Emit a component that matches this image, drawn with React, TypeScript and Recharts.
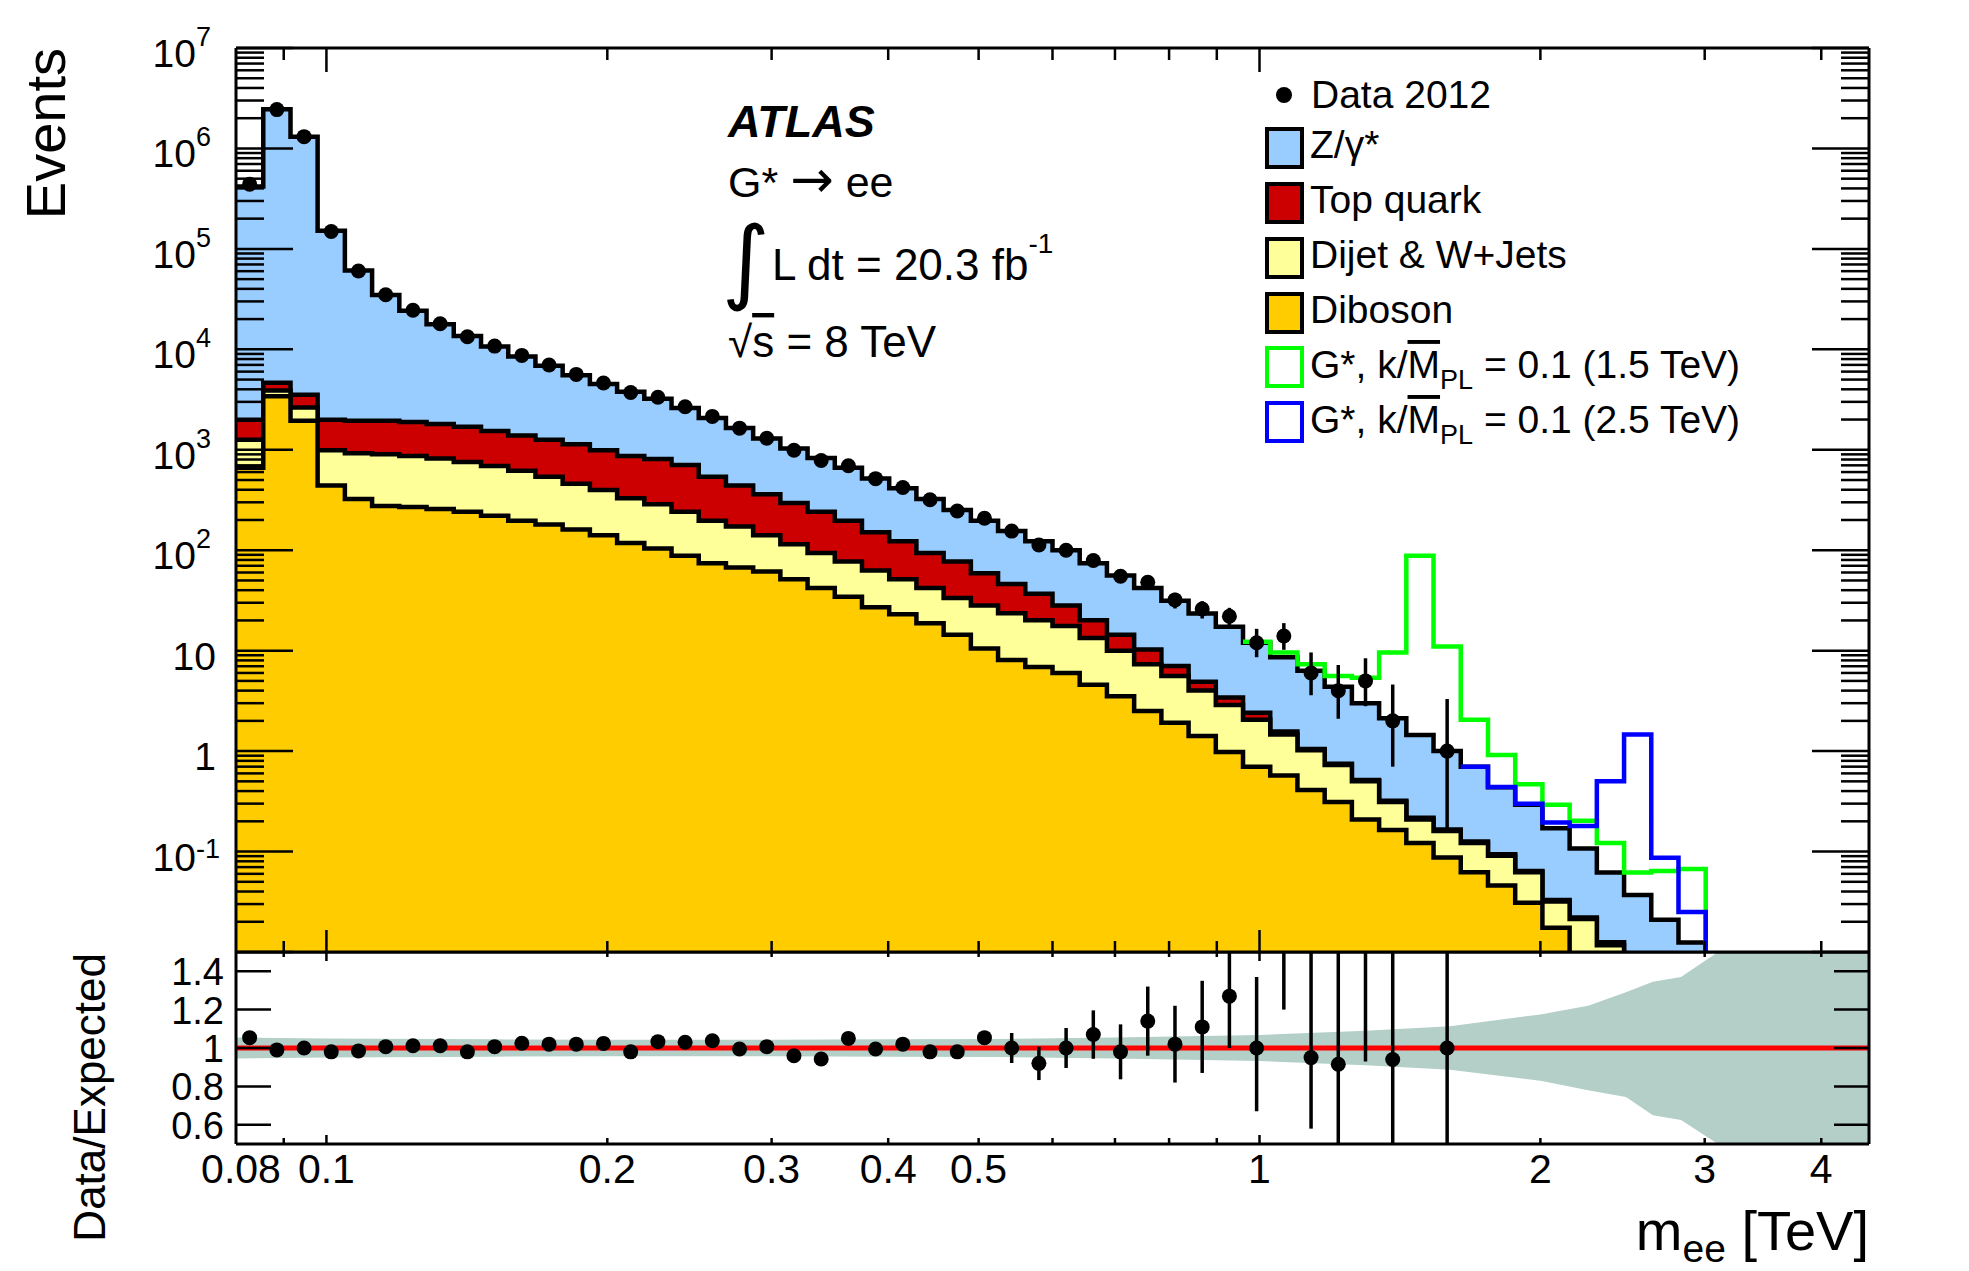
import React from 'react';
import { ComposedChart, Area, Line, Scatter, XAxis, YAxis, ErrorBar, ReferenceLine, CartesianGrid } from 'recharts';

const FONT = '"Liberation Sans", Arial, Helvetica, sans-serif';
const W = 1969;
const H = 1271;
const PLOT_L = 236;
const PLOT_R = 1869;
const MAIN_T = 48;
const MAIN_B = 952;
const RATIO_B = 1144;
const MAIN_H = 1000;
const AX = 1; // axis thickness reserved by recharts

// ---- bin edges (TeV), 60 bins from 0.08 to 4.5 ----
const binEdges = [0.08, 0.08557, 0.09152, 0.09785, 0.10466, 0.11193, 0.11971, 0.12803, 0.13692, 0.14645,
  0.15662, 0.1675, 0.17913, 0.19158, 0.20489, 0.21912, 0.23434, 0.25062, 0.26802, 0.28664,
  0.30654, 0.32783, 0.35061, 0.37494, 0.40099, 0.42884, 0.45864, 0.49052, 0.52457, 0.56104,
  0.6, 0.64166, 0.68624, 0.73393, 0.78494, 0.83946, 0.89776, 0.96013, 1.02683, 1.09817,
  1.17447, 1.25606, 1.34334, 1.43666, 1.53642, 1.64317, 1.75735, 1.87945, 2.01003, 2.14968,
  2.29899, 2.45872, 2.62944, 2.81213, 3.0075, 3.2164, 3.43989, 3.67889, 3.93449, 4.2077, 4.5];

// ---- background components (events per bin) ----
const zVals = [416000, 2455000, 1306000, 150000, 59160, 32860, 22300, 15990, 11900, 9160,
  7110, 5590, 4390, 3520, 2925, 2421, 1893, 1530, 1208, 933,
  735, 589, 464, 368, 290, 230, 174, 138, 108.8, 86.2,
  71.9, 53.9, 41.6, 31.7, 24.35, 18.49, 13.89, 9.59, 7.03, 5.25,
  3.62, 2.485, 1.81, 1.233, 0.834, 0.574, 0.343, 0.228, 0.138, 0.085,
  0.0495, 0.0305, 0.0177, 0.0107, 0.0052, 0.0035, 0.0027, 0.0018, 0.00135, 0.0009];
const topVals = [730, 750, 900, 1001, 1015, 1040, 1020, 990, 937, 853,
  766, 720, 672, 592, 536, 522, 466, 343, 270, 220,
  180, 147, 120, 88, 71.5, 51.9, 43.5, 30.8, 22.6, 16.7,
  10.5, 6.7, 4.4, 2.96, 1.44, 0.9, 0.54, 0.36, 0.11, 0.03,
  0.022, 0.015, 0.008, 0.008, 0.006, 0.004, 0.0032, 0.0017, 0.0012, 0.0007,
  0.0008, 0.0005, 0.0003, 0.0002, 0.0001, 0.0001, 0.0001, 0.00005, 0.00005, 0.00002];
const dijetVals = [599, 486, 700, 547, 601, 624, 596, 562, 515, 468,
  421, 360, 299, 256, 211, 183, 153, 123, 104.7, 79.7,
  63.5, 51.9, 42.6, 36.0, 28.5, 23.3, 19.1, 17.6, 15.5, 13.2,
  11.6, 8.81, 6.49, 4.83, 3.69, 2.6, 1.89, 1.35, 0.888, 0.611,
  0.416, 0.291, 0.148, 0.087, 0.0729, 0.0597, 0.045, 0.0313, 0.0144, 0.0133,
  0.0077, 0.004, 0.002, 0.001, 0.0004, 0.0002, 0.0001, 0.00005, 0.00005, 0.00004];
const dibosonVals = [661, 3404, 1940, 442, 324, 276, 269, 258, 241, 220,
  197, 180, 161, 141, 118, 104, 88, 74, 67.3, 61.3,
  51.5, 42.1, 34.4, 27.0, 23.0, 18.8, 14.4, 10.5, 8.07, 6.87,
  6.0, 4.59, 3.51, 2.51, 1.92, 1.41, 0.98, 0.7, 0.572, 0.409,
  0.312, 0.209, 0.164, 0.122, 0.0871, 0.0623, 0.0458, 0.031, 0.0174, 0.008,
  0.004, 0.002, 0.001, 0.0005, 0.0003, 0.0002, 0.0001, 0.0001, 0.00005, 0.00004];

// ---- signal + background lines ----
const gstar15FirstBin = 37;
const gstar15Vals = [12.3, 9.6, 7.34, 5.61, 5.39, 9.6, 88, 11.0, 2.05, 0.915, 0.467, 0.292, 0.203, 0.122, 0.062, 0.064, 0.067, 0.00001];
const gstar25FirstBin = 45;
const gstar25Vals = [0.7, 0.44, 0.3, 0.195, 0.18, 0.5, 1.46, 0.087, 0.025, 0.00001];

// ---- data 2012 ----
const dataVals = [441000, 2435000, 1310000, 149000, 60200, 35000, 24500, 18000, 13330, 10770,
  8700, 6990, 5630, 4620, 3715, 3335, 2680, 2150, 1642, 1303,
  989, 783, 694, 516, 421, 318, 246, 208, 155, 113,
  100, 79, 55, 48, 32, 26, 22, 12, 14, 6,
  4, 5, 2, null, 1];
const dataErrLow = [0, 0, 0, 0, 0, 0, 0, 0, 0, 0, 0, 0, 0, 0, 0, 0, 0, 0, 0, 0, 0, 0, 0, 0, 0, 0, 0, 0, 0, 0,
  10, 8.9, 7.4, 6.9, 5.7, 5.1, 4.7, 3.4, 3.8, 2.4, 1.9, 2.2, 1.3, 0, 0.83];
const dataErrHigh = [0, 0, 0, 0, 0, 0, 0, 0, 0, 0, 0, 0, 0, 0, 0, 0, 0, 0, 0, 0, 0, 0, 0, 0, 0, 0, 0, 0, 0, 0,
  10, 8.9, 7.4, 6.9, 5.7, 5.1, 4.7, 4.5, 4.8, 3.6, 3.2, 3.4, 2.6, 0, 2.3];

// ---- ratio panel ----
const ratioVals = [1.054, 0.99, 1.0, 0.98, 0.985, 1.007, 1.012, 1.012, 0.98, 1.007,
  1.025, 1.02, 1.02, 1.024, 0.98, 1.033, 1.03, 1.038, 0.995, 1.007,
  0.96, 0.943, 1.05, 0.995, 1.02, 0.98, 0.98, 1.054, 1.0, 0.92,
  1.0, 1.07, 0.98, 1.14, 1.02, 1.11, 1.27, 1.0, 1.64, 0.95,
  0.915, 1.66, 0.94, null, 1.0];
const ratioErrLow = [0, 0, 0, 0, 0, 0, 0, 0, 0, 0, 0, 0, 0, 0, 0, 0, 0, 0, 0, 0, 0, 0,
  0.012, 0.015, 0.02, 0.025, 0.03, 0.035, 0.078, 0.087, 0.104, 0.126, 0.143, 0.18, 0.2, 0.24, 0.27, 0.33, 0.44, 0.37, 0.46, 0.73, 0.66, 0, 0.82];
const ratioErrHigh = [0, 0, 0, 0, 0, 0, 0, 0, 0, 0, 0, 0, 0, 0, 0, 0, 0, 0, 0, 0, 0, 0,
  0.012, 0.015, 0.02, 0.025, 0.03, 0.035, 0.078, 0.087, 0.104, 0.126, 0.143, 0.18, 0.2, 0.24, 0.3, 0.37, 0.5, 0.55, 0.6, 0.9, 1.0, 0, 2.3];
const bandX = [0.08, 0.1, 0.15, 0.2, 0.3, 0.4, 0.53, 0.7, 1.0, 1.3, 1.6, 2.0, 2.25, 2.47, 2.64, 2.83, 3.1, 3.5, 4.5];
const bandUp = [1.055, 1.05, 1.045, 1.043, 1.043, 1.045, 1.047, 1.055, 1.068, 1.09, 1.113, 1.175, 1.22, 1.29, 1.345, 1.37, 1.5, 1.6, 1.7];
const bandDown = [0.945, 0.95, 0.955, 0.957, 0.957, 0.955, 0.953, 0.945, 0.932, 0.91, 0.887, 0.83, 0.78, 0.745, 0.65, 0.625, 0.5, 0.4, 0.3];

// ---- ticks ----
const xTickValues = [0.09, 0.1, 0.2, 0.3, 0.4, 0.5, 0.6, 0.7, 0.8, 0.9, 1, 2, 3, 4];
const xLabelValues = [0.08, 0.1, 0.2, 0.3, 0.4, 0.5, 1, 2, 3, 4];
const xLongTicks = [0.1, 1];
const ratioYTicks = [0.6, 0.8, 1, 1.2, 1.4];
const RATIO_DOMAIN = [0.5, 1.5];
const yMainTicks: number[] = [];
for (let e = -2; e < 7; e++) for (let m = 1; m <= 9; m++) yMainTicks.push(Number((m * Math.pow(10, e)).toPrecision(3)));
yMainTicks.push(1e7);

const COLORS = { z: '#99ccff', top: '#cc0000', dijet: '#ffff99', diboson: '#ffcc00', g15: '#00ff00', g25: '#0000ff', band: '#b3cfc8', ref: '#ff0000' };
const LW = 4.5;

// ---- tables built from the arrays ----
const NB = zVals.length;
const stackRows = binEdges.map((x, k) => {
  const i = Math.min(k, NB - 1);
  const dib = dibosonVals[i];
  const dij = dib + dijetVals[i];
  const top = dij + topVals[i];
  const z = top + zVals[i];
  return { x, dib, dij, top, z };
});
const center = (k: number) => Math.sqrt(binEdges[k] * binEdges[k + 1]);
const dataRows = dataVals
  .map((v, k) => (v == null ? null : { x: center(k), y: v, err: [dataErrLow[k], dataErrHigh[k]] }))
  .filter(Boolean);
// error bars are cut at the bottom of the ratio frame (like the plot's clipping)
const ratioRows = ratioVals
  .map((v, k) => (v == null ? null : { x: center(k), y: v, err: [Math.min(ratioErrLow[k], Math.max(0, v - RATIO_DOMAIN[0])), ratioErrHigh[k]] }))
  .filter(Boolean);
const g15Rows = gstar15Vals.map((v, i) => ({ x: binEdges[gstar15FirstBin + i], v }));
const g25Rows = gstar25Vals.map((v, i) => ({ x: binEdges[gstar25FirstBin + i], v }));
const bandRows = bandX.map((x, i) => ({ x, band: [bandDown[i], bandUp[i]] }));

// ---- tick renderers ----
const TS = { stroke: '#000', strokeWidth: 2.5 };
const isDecade = (v: number) => Math.abs(Math.log10(v) - Math.round(Math.log10(v))) < 1e-6;
const isLongX = (v: number) => xLongTicks.some((t) => Math.abs(t - v) < 1e-9);

function MainYLeftTick(p: any) {
  const { x, y, payload } = p;
  const v = payload.value;
  const e = Math.round(Math.log10(v));
  const major = isDecade(v);
  let label: any = null;
  if (major && e > -2) {
    if (e === 0 || e === 1) {
      label = (
        <text x={x - 20} y={y + 19} textAnchor="end" fontSize={39} fontFamily={FONT} fill="#000">
          {e === 0 ? '1' : '10'}
        </text>
      );
    } else {
      label = (
        <g>
          <text x={x - 40} y={y + 19} textAnchor="end" fontSize={39} fontFamily={FONT} fill="#000">10</text>
          <text x={x - 40} y={y + (e < 0 ? 6 : -2)} textAnchor="start" fontSize={27} fontFamily={FONT} fill="#000">{String(e)}</text>
        </g>
      );
    }
  }
  return (
    <g>
      <line x1={x} x2={x + (major ? 57 : 28)} y1={y} y2={y} {...TS} />
      {label}
    </g>
  );
}
function MainYRightTick(p: any) {
  const { x, y, payload } = p;
  const major = isDecade(payload.value);
  return <line x1={x} x2={x - (major ? 57 : 28)} y1={y} y2={y} {...TS} />;
}
function MainXTopTick(p: any) {
  const { x, y, payload } = p;
  return <line x1={x} x2={x} y1={y} y2={y + (isLongX(payload.value) ? 24 : 12)} {...TS} />;
}
function MainXBottomTick(p: any) {
  const { x, y, payload } = p;
  return <line x1={x} x2={x} y1={y} y2={y - (isLongX(payload.value) ? 22 : 11)} {...TS} />;
}
function RatioXTopTick(p: any) {
  const { x, y, payload } = p;
  if (payload.value < 0.085) return <g />;
  return <line x1={x} x2={x} y1={y} y2={y + (isLongX(payload.value) ? 9 : 5)} {...TS} />;
}
function RatioXBottomTick(p: any) {
  const { x, y, payload } = p;
  const v = payload.value;
  const hasLine = v > 0.085;
  const hasLabel = xLabelValues.some((t) => Math.abs(t - v) < 1e-9);
  return (
    <g>
      {hasLine && <line x1={x} x2={x} y1={y} y2={y - (isLongX(v) ? 9 : 6)} {...TS} />}
      {hasLabel && (
        <text x={v < 0.085 ? x + 5 : x} y={y + 39} textAnchor="middle" fontSize={41} fontFamily={FONT} fill="#000">{String(v)}</text>
      )}
    </g>
  );
}
function RatioYLeftTick(p: any) {
  const { x, y, payload } = p;
  return (
    <g>
      <line x1={x} x2={x + 35} y1={y} y2={y} {...TS} />
      <text x={x - 12} y={y + 14} textAnchor="end" fontSize={38} fontFamily={FONT} fill="#000">{String(payload.value)}</text>
    </g>
  );
}
function RatioYRightTick(p: any) {
  const { x, y } = p;
  return <line x1={x} x2={x - 35} y1={y} y2={y} {...TS} />;
}

const frame = { stroke: '#000', strokeWidth: 3 };
const dotShape = (p: any) => <circle cx={p.cx} cy={p.cy} r={7.5} fill="#000" />;

const xAxisCommon = {
  dataKey: 'x',
  type: 'number' as const,
  scale: 'log' as const,
  domain: [0.08, 4.5],
  allowDataOverflow: true,
  interval: 0,
  height: AX,
  tickSize: 0,
  tickMargin: 0,
  tickLine: false,
  axisLine: frame,
};
const yAxisSize = { interval: 0, width: AX, tickSize: 0, tickMargin: 0, tickLine: false, axisLine: frame, allowDataOverflow: true, type: 'number' as const };

function LegendBlock() {
  const rows = [
    { label: 'Z/\u03b3*', fill: COLORS.z, stroke: '#000', cy: 148 },
    { label: 'Top quark', fill: COLORS.top, stroke: '#000', cy: 203 },
    { label: 'Dijet & W+Jets', fill: COLORS.dijet, stroke: '#000', cy: 258 },
    { label: 'Diboson', fill: COLORS.diboson, stroke: '#000', cy: 313 },
  ];
  const sig = [
    { mass: '1.5', stroke: COLORS.g15, cy: 367 },
    { mass: '2.5', stroke: COLORS.g25, cy: 422 },
  ];
  return (
    <g fontFamily={FONT} fill="#000">
      <circle cx={1284} cy={95} r={8} fill="#000" />
      <text x={1311} y={108} fontSize={39}>Data 2012</text>
      {rows.map((r) => (
        <g key={r.label}>
          <rect x={1267} y={r.cy - 19} width={35} height={38} fill={r.fill} stroke={r.stroke} strokeWidth={4} />
          <text x={1310} y={r.cy + 10} fontSize={39}>{r.label}</text>
        </g>
      ))}
      {sig.map((s) => (
        <g key={s.mass}>
          <rect x={1267} y={s.cy - 19} width={35} height={38} fill="#fff" stroke={s.stroke} strokeWidth={4} />
          <text x={1310} y={s.cy + 11} fontSize={39}>
            G*, k/<tspan textDecoration="overline" style={{ textDecoration: 'overline' }}>M</tspan>
            <tspan dy={11} fontSize={27}>PL</tspan>
            <tspan dy={-11}>{` = 0.1 (${s.mass} TeV)`}</tspan>
          </text>
        </g>
      ))}
    </g>
  );
}

export default function App() {
  return (
    <div style={{ position: 'absolute', left: 0, top: 0, width: W, height: H, background: '#fff' }}>
      <div style={{ position: 'absolute', left: 0, top: 0 }}>
        <ComposedChart width={W} height={H} margin={{ top: MAIN_B - AX, right: W - PLOT_R - AX, bottom: H - RATIO_B - AX, left: PLOT_L - AX }}>
          <Area xAxisId="b" yAxisId="l" data={bandRows} dataKey="band" type="linear" fill={COLORS.band} fillOpacity={1} stroke="none" dot={false} activeDot={false} isAnimationActive={false} />
          <ReferenceLine xAxisId="b" yAxisId="l" y={1} stroke={COLORS.ref} strokeWidth={5} ifOverflow="hidden" />
          <Scatter xAxisId="b" yAxisId="l" data={ratioRows} dataKey="y" fill="#000" shape={dotShape} isAnimationActive={false}>
            <ErrorBar dataKey="err" direction="y" width={0} stroke="#000" strokeWidth={3.5} />
          </Scatter>
          <XAxis xAxisId="b" orientation="bottom" {...xAxisCommon} ticks={[0.08, ...xTickValues]} tick={RatioXBottomTick} />
          <XAxis xAxisId="t" orientation="top" {...xAxisCommon} ticks={xTickValues} tick={RatioXTopTick} />
          <YAxis yAxisId="l" orientation="left" {...yAxisSize} domain={RATIO_DOMAIN} ticks={ratioYTicks} tick={RatioYLeftTick} />
          <YAxis yAxisId="r" orientation="right" {...yAxisSize} domain={RATIO_DOMAIN} ticks={ratioYTicks} tick={RatioYRightTick} />
        </ComposedChart>
      </div>
      <div style={{ position: 'absolute', left: 0, top: 0 }}>
        <ComposedChart width={W} height={MAIN_H} margin={{ top: MAIN_T - AX, right: W - PLOT_R - AX, bottom: MAIN_H - MAIN_B - AX, left: PLOT_L - AX }}>
          <CartesianGrid xAxisId="b" yAxisId="l" horizontal={false} vertical={false} fill="#ffffff" fillOpacity={1} />
          <Area xAxisId="b" yAxisId="l" data={stackRows} dataKey="z" type="stepAfter" baseValue="dataMin" fill={COLORS.z} fillOpacity={1} stroke="#000" strokeWidth={LW} dot={false} activeDot={false} isAnimationActive={false} />
          <Area xAxisId="b" yAxisId="l" data={stackRows} dataKey="top" type="stepAfter" baseValue="dataMin" fill={COLORS.top} fillOpacity={1} stroke="#000" strokeWidth={LW} dot={false} activeDot={false} isAnimationActive={false} />
          <Area xAxisId="b" yAxisId="l" data={stackRows} dataKey="dij" type="stepAfter" baseValue="dataMin" fill={COLORS.dijet} fillOpacity={1} stroke="#000" strokeWidth={LW} dot={false} activeDot={false} isAnimationActive={false} />
          <Area xAxisId="b" yAxisId="l" data={stackRows} dataKey="dib" type="stepAfter" baseValue="dataMin" fill={COLORS.diboson} fillOpacity={1} stroke="#000" strokeWidth={LW} dot={false} activeDot={false} isAnimationActive={false} />
          <Line xAxisId="b" yAxisId="l" data={g15Rows} dataKey="v" type="stepAfter" stroke={COLORS.g15} strokeWidth={LW} dot={false} activeDot={false} isAnimationActive={false} />
          <Line xAxisId="b" yAxisId="l" data={g25Rows} dataKey="v" type="stepAfter" stroke={COLORS.g25} strokeWidth={LW} dot={false} activeDot={false} isAnimationActive={false} />
          <Scatter xAxisId="b" yAxisId="l" data={dataRows} dataKey="y" fill="#000" shape={dotShape} isAnimationActive={false}>
            <ErrorBar dataKey="err" direction="y" width={0} stroke="#000" strokeWidth={3.5} />
          </Scatter>
          <XAxis xAxisId="b" orientation="bottom" {...xAxisCommon} ticks={xTickValues} tick={MainXBottomTick} />
          <XAxis xAxisId="t" orientation="top" {...xAxisCommon} ticks={xTickValues} tick={MainXTopTick} />
          <YAxis yAxisId="l" orientation="left" {...yAxisSize} scale="log" domain={[0.01, 1e7]} ticks={yMainTicks} tick={MainYLeftTick} />
          <YAxis yAxisId="r" orientation="right" {...yAxisSize} scale="log" domain={[0.01, 1e7]} ticks={yMainTicks} tick={MainYRightTick} />
        </ComposedChart>
      </div>
      <svg width={W} height={H} style={{ position: 'absolute', left: 0, top: 0, pointerEvents: 'none' }} fontFamily={FONT}>
        <text transform="translate(65,48) rotate(-90)" textAnchor="end" fontSize={56} fill="#000">Events</text>
        <text transform="translate(105,953) rotate(-90)" textAnchor="end" fontSize={44} fill="#000">Data/Expected</text>
        <text x={1869} y={1250} textAnchor="end" fontSize={56} fill="#000">
          m<tspan dy={12} fontSize={39}>ee</tspan><tspan dy={-12}> [TeV]</tspan>
        </text>
        <text x={728} y={137} fontSize={45} fontWeight="bold" fontStyle="italic" fill="#000">ATLAS</text>
        <text x={728} y={197} fontSize={43} fill="#000">
          G* <tspan fontFamily="DejaVu Sans" fontSize={52}>{'\u2192'}</tspan> ee
        </text>
        <text x={722} y={292} fontSize={92} fontFamily="DejaVu Sans" fill="#000">{'\u222b'}</text>
        <text x={772} y={280} fontSize={44} fill="#000">
          L dt = 20.3 fb<tspan dy={-27} fontSize={28}>-1</tspan>
        </text>
        <text x={728} y={357} fontSize={44} fill="#000">
          {'\u221a'}<tspan textDecoration="overline" style={{ textDecoration: 'overline' }}>s</tspan> = 8 TeV
        </text>
        <LegendBlock />
      </svg>
    </div>
  );
}
